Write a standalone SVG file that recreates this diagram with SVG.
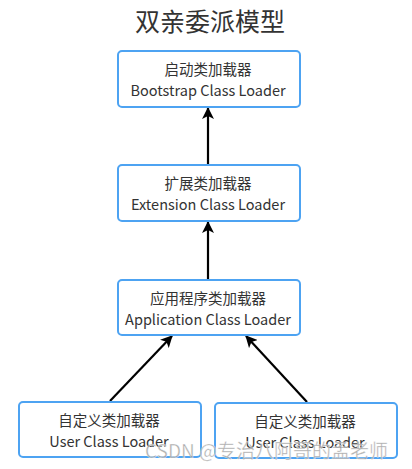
<svg xmlns="http://www.w3.org/2000/svg" width="412" height="469" viewBox="0 0 412 469">
<style>
.box{fill:#fff;stroke:#4da3f2;stroke-width:2}
.t{font-family:"Noto Sans CJK SC","Noto Sans",sans-serif;font-size:14.5px;fill:#333;text-anchor:middle}
.title{font-family:"Noto Sans CJK SC","Noto Sans",sans-serif;font-size:25px;fill:#333;text-anchor:middle}
.edge{stroke:#000;stroke-width:2.2;fill:none;marker-end:url(#ah)}
.wm{font-family:"Noto Sans CJK SC","Noto Sans",sans-serif;font-size:19px;fill:#a0a0a0;fill-opacity:0.85;stroke:#fff;stroke-width:0.5;stroke-opacity:0.7}
</style>
<defs>
<marker id="ah" viewBox="0 0 12 12" refX="11" refY="6" markerWidth="12" markerHeight="12" markerUnits="userSpaceOnUse" orient="auto">
<path d="M0,0 L12,6 L0,12 L3,6 Z" fill="#000"/>
</marker>
</defs>
<rect width="412" height="469" fill="#fff"/>
<text class="title" x="210" y="31">双亲委派模型</text>
<g id="connectors">
<line class="edge" x1="208" y1="164" x2="208" y2="108"/>
<line class="edge" x1="208" y1="279" x2="208" y2="222"/>
<line class="edge" x1="110" y1="401" x2="172" y2="336"/>
<line class="edge" x1="307" y1="402" x2="246" y2="336"/>
</g>
<g id="bootstrap">
<rect class="box" x="118" y="51" width="182" height="56" rx="4"/>
<text class="t" x="208" y="75">启动类加载器</text>
<text class="t" x="208" y="96">Bootstrap Class Loader</text>
</g>
<g id="extension">
<rect class="box" x="118" y="165" width="182" height="56" rx="4"/>
<text class="t" x="208" y="189">扩展类加载器</text>
<text class="t" x="208" y="210">Extension Class Loader</text>
</g>
<g id="application">
<rect class="box" x="118" y="280" width="182" height="55" rx="4"/>
<text class="t" x="208" y="304">应用程序类加载器</text>
<text class="t" x="208" y="325">Application Class Loader</text>
</g>
<g id="user1">
<rect class="box" x="19" y="402" width="182" height="55" rx="4"/>
<text class="t" x="109" y="426">自定义类加载器</text>
<text class="t" x="109" y="447">User Class Loader</text>
</g>
<g id="user2">
<rect class="box" x="215" y="403" width="182" height="55" rx="4"/>
<text class="t" x="305" y="427">自定义类加载器</text>
<text class="t" x="305" y="448">User Class Loader</text>
</g>
<text class="wm" x="145" y="458">CSDN @专治八阿哥的孟老师</text>
</svg>
